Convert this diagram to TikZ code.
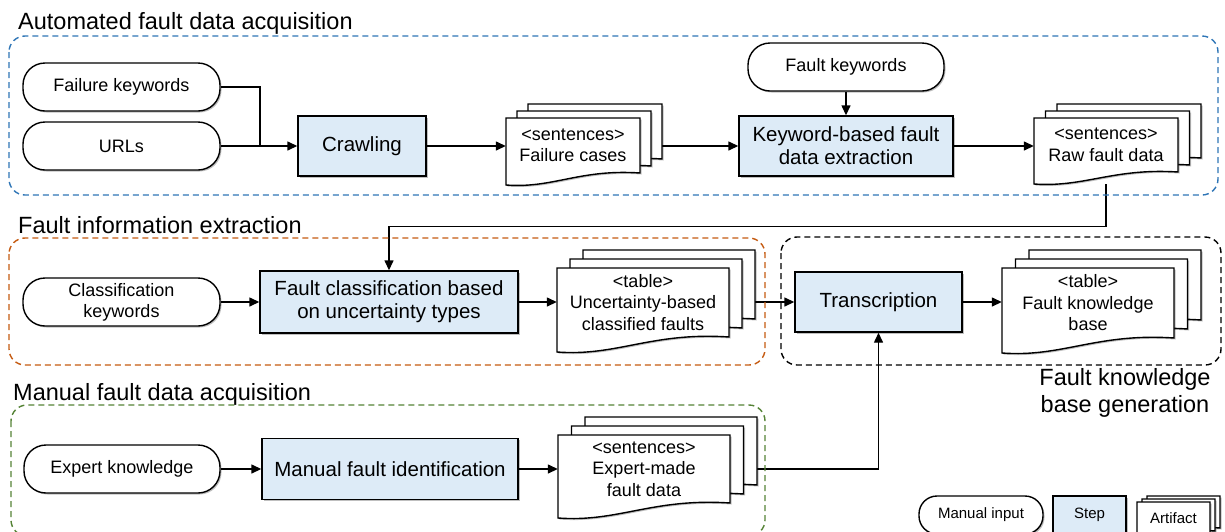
\documentclass[tikz,border=0pt]{standalone}
\usepackage{fontspec}
\setmainfont{Liberation Sans}
\usetikzlibrary{arrows.meta,shadows,calc}
\pgfdeclarelayer{bg}
\pgfsetlayers{bg,main}
\definecolor{stepblue}{HTML}{DDEBF7}
\definecolor{boxblue}{HTML}{2E75B6}
\definecolor{boxorange}{HTML}{C55A11}
\definecolor{boxgreen}{HTML}{548235}
\tikzset{
  shd/.style={drop shadow={shadow xshift=1.5pt,shadow yshift=-1.5pt,opacity=0.25,fill=black}},
  inputbox/.style={draw, line width=1.4pt, rounded corners=22pt, fill=white, minimum width=197pt,
    minimum height=48pt, align=center, font=\fontsize{18}{21}\selectfont, shd, inner sep=0pt},
  stepbox/.style={draw, line width=1.4pt, fill=stepblue, minimum height=61pt, align=center,
    font=\fontsize{20.5}{23}\selectfont, shd, inner sep=0pt},
  doctext/.style={align=center, font=\fontsize{18}{21.5}\selectfont, inner sep=0pt},
  docline/.style={draw, line width=1.4pt, fill=white, shd},
  grp/.style={dash pattern=on 6pt off 4pt, line width=1.4pt, rounded corners=16pt},
  grptitle/.style={anchor=base west, font=\fontsize{23.5}{27}\selectfont, inner sep=0pt},
  conn/.style={line width=1.4pt},
  arr/.style={line width=1.4pt, -{Triangle[length=10pt,width=9pt]}},
}
% one document sheet: x, top y, w, h, wave depth
\newcommand\docshape[5]{%
  \pgfmathsetmacro\dsxr{#1+#3}\pgfmathsetmacro\dsyb{#2+#4}\pgfmathsetmacro\dsyr{#2+#4-#5}%
  \pgfmathsetmacro\dscax{#1+0.55*#3}\pgfmathsetmacro\dscay{#2+#4-1.35*#5}%
  \pgfmathsetmacro\dscbx{#1+0.35*#3}\pgfmathsetmacro\dscby{#2+#4+0.3*#5}%
  \path[docline] (#1,#2) -- (\dsxr,#2) -- (\dsxr,\dsyr) .. controls (\dscax,\dscay) and (\dscbx,\dscby) .. (#1,\dsyb) -- cycle;}
% stack of three sheets: name, x, y, w, h, d, dx, dy, text
\newcommand\docstack[9]{%
  \pgfmathsetmacro\stxa{#2+2*#7}\pgfmathsetmacro\stya{#3-2*#8}%
  \pgfmathsetmacro\stxb{#2+#7}\pgfmathsetmacro\styb{#3-#8}%
  \docshape{\stxa}{\stya}{#4}{#5}{#6}%
  \docshape{\stxb}{\styb}{#4}{#5}{#6}%
  \docshape{#2}{#3}{#4}{#5}{#6}%
  \pgfmathsetmacro\stcx{#2+#4/2}\pgfmathsetmacro\stcy{#3+#5/2}%
  \pgfmathsetmacro\sttx{#3+(#5-#6)/2}\pgfmathsetmacro\strx{#2+#4+2*#7}%
  \node[draw=none, inner sep=0pt, minimum width=#4pt, minimum height=#5pt] (#1) at (\stcx,\stcy) {};
  \coordinate (#1-r) at (\strx,\stcy);
  \node[doctext] (#1-t) at (\stcx,\sttx) {#9};}
\begin{document}
\begin{tikzpicture}[x=1pt,y=-1pt]
\useasboundingbox (0,0) rectangle (1225,531);
\clip (0,0) rectangle (1225,531);
% groups
\draw[grp, boxblue] (9,36) rectangle (1218,195);
\draw[grp, boxorange] (9,238) rectangle (765,365);
\draw[grp, black] (781,237) rectangle (1221,365);
\draw[grp, boxgreen] (11,405) rectangle (765,536);
\node[grptitle] (t1) at (18,29) {Automated fault data acquisition};
\node[grptitle] (t2) at (18,233) {Fault information extraction};
\node[grptitle] (t3) at (13,400) {Manual fault data acquisition};
\node[align=center, font=\fontsize{23.5}{27}\selectfont, inner sep=0pt] (t4) at (1125,393) {Fault knowledge\\base generation};
% inputs
\node[inputbox] (fkw) at (121.5,87) {Failure keywords};
\node[inputbox] (urls) at (121.5,146) {URLs};
\node[inputbox, minimum width=196pt] (fkey) at (846,67) {Fault keywords};
\node[inputbox] (ck) at (121.5,302) {Classification\\keywords};
\node[inputbox, minimum width=196pt] (expk) at (122,469) {Expert knowledge};
% steps
\node[stepbox, minimum width=128pt, minimum height=60pt] (crawl) at (362,146) {Crawling};
\node[stepbox, minimum width=214pt, minimum height=60pt] (kbx) at (846,146) {Keyword-based fault\\data extraction};
\node[stepbox, minimum width=258pt, minimum height=62pt] (fclass) at (389,302) {Fault classification based\\on uncertainty types};
\node[stepbox, minimum width=167pt, minimum height=60pt] (trans) at (878.5,302) {Transcription};
\node[stepbox, minimum width=256pt] (mfi) at (390,469) {Manual fault identification};
% artifacts
\docstack{failcases}{506}{118}{134}{67}{12}{11}{7}{<sentences>\\Failure cases}
\docstack{raw}{1034}{118}{144}{66}{12}{11.5}{7}{<sentences>\\Raw fault data}
\docstack{unc}{557}{268}{172}{84}{15}{13}{9}{<table>\\Uncertainty-based\\classified faults}
\docstack{fkb}{1002}{268}{172}{85}{15}{13.5}{9}{<table>\\Fault knowledge\\base}
\docstack{exp}{558}{435}{172}{83}{15}{13.5}{9}{<sentences>\\Expert-made\\fault data}
% legend
\node[inputbox, minimum width=124pt, minimum height=38pt, rounded corners=18pt, font=\fontsize{15}{18}\selectfont] (lin) at (981,515) {Manual input};
\node[stepbox, minimum width=73pt, minimum height=38pt, font=\fontsize{15}{18}\selectfont] (lstep) at (1089.5,515) {Step};
\docstack{lart}{1137}{502}{73}{40}{8}{5}{3}{\fontsize{15}{18}\selectfont Artifact}
% connectors
\begin{pgfonlayer}{bg}
\coordinate (jn) at (260,146);
\draw[conn] (fkw.east) -| (jn);
\draw[arr] (urls.east) -- (crawl.west);
\draw[arr] (crawl.east) -- (crawl.east -| failcases.west);
\draw[arr] (kbx.west -| failcases-r) -- (kbx.west);
\draw[arr] (fkey.south) -- (kbx.north);
\draw[arr] (kbx.east) -- (kbx.east -| raw.west);
\draw[arr] (raw.south) |- ($(fclass.north)+(0,-44)$) -- (fclass.north);
\draw[arr] (ck.east) -- (fclass.west);
\draw[arr] (fclass.east) -- (fclass.east -| unc.west);
\draw[arr] (trans.west -| unc-r) -- (trans.west);
\draw[arr] (trans.east) -- (trans.east -| fkb.west);
\draw[arr] (expk.east) -- (mfi.west);
\draw[arr] (mfi.east) -- (mfi.east -| exp.west);
\draw[arr] (mfi.east -| exp-r) -| (trans.south);
\end{pgfonlayer}
\end{tikzpicture}
\end{document}
